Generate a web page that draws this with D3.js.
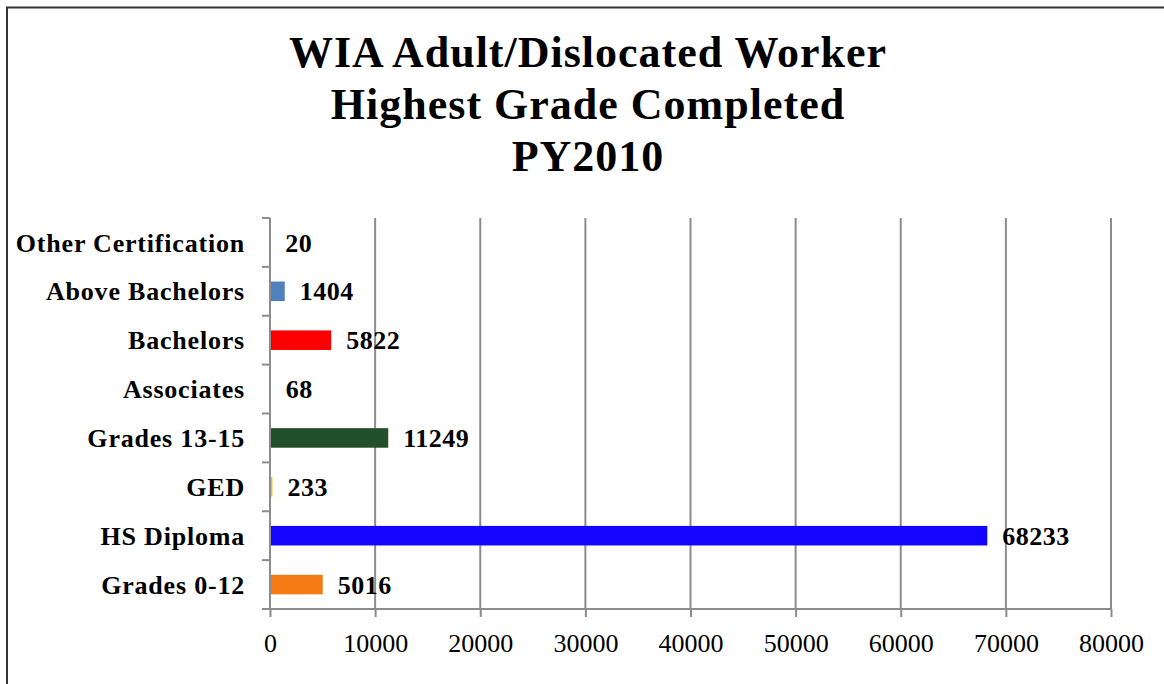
<!DOCTYPE html>
<html>
<head>
<meta charset="utf-8">
<script src="https://cdnjs.cloudflare.com/ajax/libs/d3/7.8.5/d3.min.js"></script>
<style>
  body { margin: 0; background: #fff; }
  #graphicContainer { width: 1164px; height: 684px; }
  text { font-family: "Palatino Linotype", "Book Antiqua", Palatino, "Liberation Serif", serif; }
</style>
</head>
<body>
<div id="graphicContainer"></div>
<script>

// chart data, bottom to top as in the original

var categories = ["Grades 0-12", "HS Diploma", "GED", "Grades 13-15", "Associates", "Bachelors", "Above Bachelors", "Other Certification"];
var values = [5016, 68233, 233, 11249, 68, 5822, 1404, 20];
var bar_colours = ["#f47a16", "#1405ff", "#ffc000", "#21502a", "#9bbb59", "#ff0000", "#4f81bd", "#8064a2"];
var x_ticks = [0, 10000, 20000, 30000, 40000, 50000, 60000, 70000, 80000];
var title_lines = ["WIA Adult/Dislocated Worker", "Highest Grade Completed", "PY2010"];

function draw_bars() {

		var width = 1164, height = 684;
		var margin = {top: 218, right: 53, bottom: 75, left: 270};

		var svg = d3.select("#graphicContainer").append("svg")
			.attr("width", width)
			.attr("height", height);

		// outer frame

		svg.append("rect")
			.attr("x", 7)
			.attr("y", 7.5)
			.attr("width", width + 20)
			.attr("height", height + 20)
			.attr("fill", "none")
			.attr("stroke", "#333")
			.attr("stroke-width", 2);

		// title

		svg.append("g")
			.selectAll("text")
			.data(title_lines)
			.enter()
			.append("text")
			.attr("x", 588)
			.attr("y", (d, i) => 67 + i * 52)
			.attr("text-anchor", "middle")
			.attr("font-size", 44)
			.attr("font-weight", "bold")
			.attr("letter-spacing", 1)
			.text(d => d);

		var x = d3.scaleLinear()
			.domain([0, 80000])
			.range([margin.left, width - margin.right]);

		var y = d3.scaleBand()
			.domain(categories.slice().reverse())
			.range([margin.top, height - margin.bottom])
			.paddingInner(0.6)
			.paddingOuter(0.3);

		var yOuter = d3.scaleBand()
			.domain(categories.slice().reverse())
			.range([margin.top, height - margin.bottom]);

		// vertical gridlines

		svg.append("g")
			.selectAll("line")
			.data(x_ticks.slice(1))
			.enter()
			.append("line")
			.attr("x1", d => x(d))
			.attr("x2", d => x(d))
			.attr("y1", margin.top)
			.attr("y2", height - margin.bottom)
			.attr("stroke", "#8c8c8c")
			.attr("stroke-width", 2);

		// bars

		svg.append("g")
			.selectAll("rect")
			.data(values)
			.enter()
			.append("rect")
			.attr("x", x(0))
			.attr("y", (d, i) => y(categories[i]))
			.attr("height", y.bandwidth())
			.attr("width", d => x(d) - x(0))
			.attr("fill", (d, i) => bar_colours[i]);

		// value labels

		svg.append("g")
			.selectAll("text")
			.data(values)
			.enter()
			.append("text")
			.attr("x", d => x(d) + 15)
			.attr("y", (d, i) => y(categories[i]) + y.bandwidth() / 2)
			.attr("dy", "0.35em")
			.attr("font-size", 26)
			.attr("font-weight", "bold")
			.attr("letter-spacing", 0.5)
			.text(d => d);

		// axes

		var xAxis = g => g
			.attr("transform", `translate(0,${height - margin.bottom})`)
			.call(d3.axisBottom(x).tickValues(x_ticks).tickSize(8).tickPadding(17).tickFormat(d3.format("d")))
			.call(g => g.select(".domain").attr("stroke", "#8c8c8c").attr("stroke-width", 2).attr("d", `M${x(0)},0H${x(80000)}`))
			.call(g => g.selectAll(".tick line").attr("stroke", "#8c8c8c").attr("stroke-width", 2))
			.call(g => g.selectAll(".tick text").attr("font-size", 26).attr("fill", "#000")
				.attr("font-family", "'Palatino Linotype', 'Book Antiqua', Palatino, 'Liberation Serif', serif"));

		var yAxis = g => g
			.attr("transform", `translate(${margin.left},0)`)
			.call(g => g.append("line")
				.attr("x1", 0).attr("x2", 0)
				.attr("y1", margin.top).attr("y2", height - margin.bottom)
				.attr("stroke", "#8c8c8c").attr("stroke-width", 2))
			.call(g => g.selectAll(".ytick")
				.data(categories.concat(["_"]))
				.enter()
				.append("line")
				.attr("class", "ytick")
				.attr("x1", -8).attr("x2", 0)
				.attr("y1", (d, i) => i < categories.length ? yOuter(categories[i]) + yOuter.bandwidth() : margin.top)
				.attr("y2", (d, i) => i < categories.length ? yOuter(categories[i]) + yOuter.bandwidth() : margin.top)
				.attr("stroke", "#8c8c8c").attr("stroke-width", 2))
			.call(g => g.selectAll(".ylabel")
				.data(categories)
				.enter()
				.append("text")
				.attr("class", "ylabel")
				.attr("x", -25)
				.attr("y", d => yOuter(d) + yOuter.bandwidth() / 2)
				.attr("dy", "0.35em")
				.attr("text-anchor", "end")
				.attr("font-size", 26)
				.attr("font-weight", "bold")
				.attr("letter-spacing", 0.8)
				.text(d => d));

		svg.append("g").call(xAxis);
		svg.append("g").call(yAxis);
}

draw_bars();

</script>
</body>
</html>
